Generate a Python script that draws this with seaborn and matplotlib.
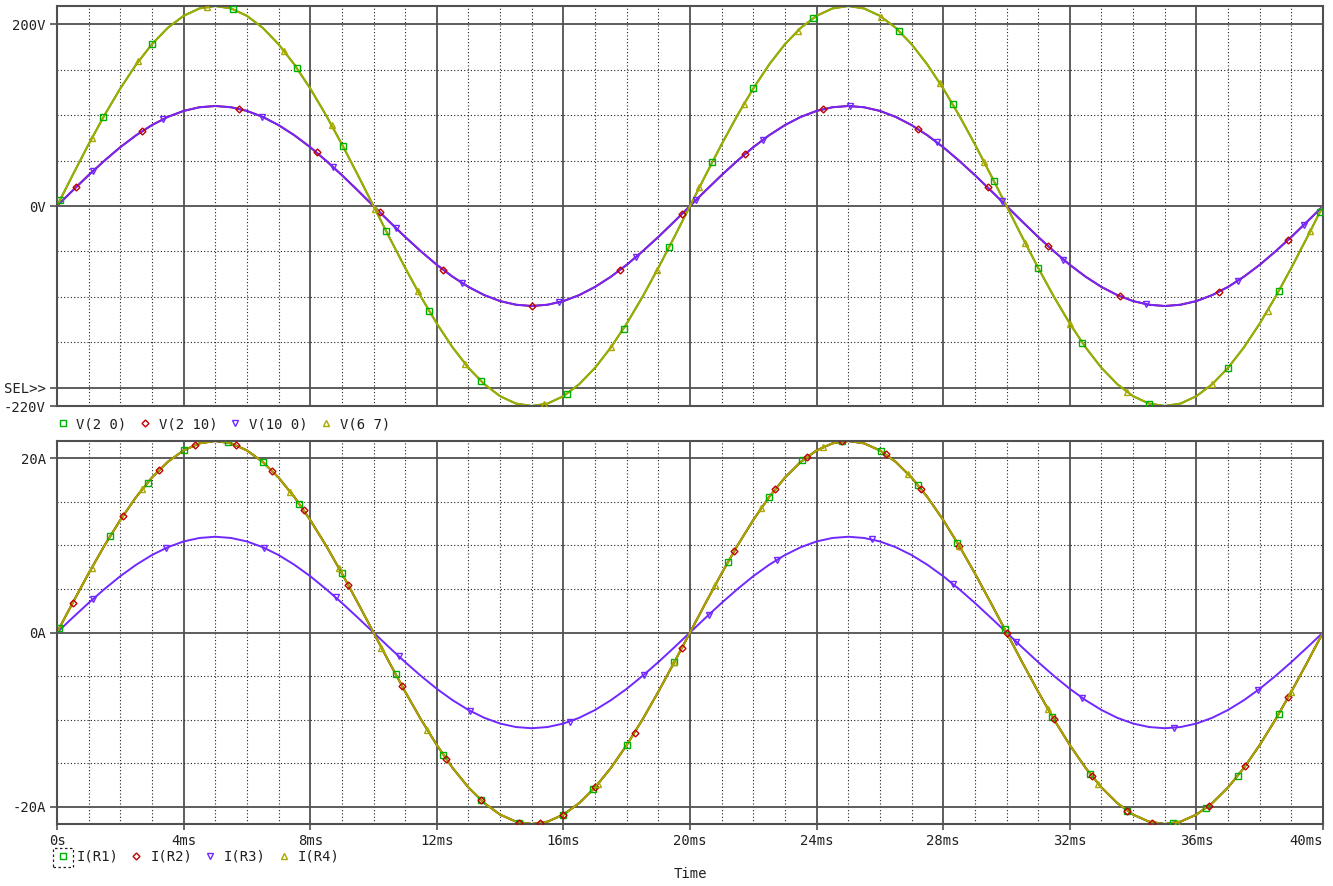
import matplotlib
matplotlib.use("Agg")
import matplotlib.pyplot as plt
import numpy as np
import seaborn as sns
from matplotlib.lines import Line2D
from matplotlib.patches import Rectangle
from matplotlib.ticker import MultipleLocator

# time base of the trace samples (ms)
t_ms = np.arange(0, 40.5, 0.5)

# top plot: node voltages (V)
v_2_0 = [0.0, 34.4, 68.0, 99.9, 129.3, 155.6, 178.0, 196.0, 209.2, 217.3,
         220.0, 217.3, 209.2, 196.0, 178.0, 155.6, 129.3, 99.9, 68.0, 34.4,
         0.0, -34.4, -68.0, -99.9, -129.3, -155.6, -178.0, -196.0, -209.2, -217.3,
         -220.0, -217.3, -209.2, -196.0, -178.0, -155.6, -129.3, -99.9, -68.0, -34.4,
         0.0, 34.4, 68.0, 99.9, 129.3, 155.6, 178.0, 196.0, 209.2, 217.3,
         220.0, 217.3, 209.2, 196.0, 178.0, 155.6, 129.3, 99.9, 68.0, 34.4,
         0.0, -34.4, -68.0, -99.9, -129.3, -155.6, -178.0, -196.0, -209.2, -217.3,
         -220.0, -217.3, -209.2, -196.0, -178.0, -155.6, -129.3, -99.9, -68.0, -34.4,
         0.0]
v_6_7 = list(v_2_0)  # lies exactly on V(2 0)
v_2_10 = [0.0, 17.2, 34.0, 49.9, 64.7, 77.8, 89.0, 98.0, 104.6, 108.6,
          110.0, 108.6, 104.6, 98.0, 89.0, 77.8, 64.7, 49.9, 34.0, 17.2,
          0.0, -17.2, -34.0, -49.9, -64.7, -77.8, -89.0, -98.0, -104.6, -108.6,
          -110.0, -108.6, -104.6, -98.0, -89.0, -77.8, -64.7, -49.9, -34.0, -17.2,
          0.0, 17.2, 34.0, 49.9, 64.7, 77.8, 89.0, 98.0, 104.6, 108.6,
          110.0, 108.6, 104.6, 98.0, 89.0, 77.8, 64.7, 49.9, 34.0, 17.2,
          0.0, -17.2, -34.0, -49.9, -64.7, -77.8, -89.0, -98.0, -104.6, -108.6,
          -110.0, -108.6, -104.6, -98.0, -89.0, -77.8, -64.7, -49.9, -34.0, -17.2,
          0.0]
v_10_0 = list(v_2_10)  # lies exactly on V(2 10)

# bottom plot: resistor currents (A)
i_r1 = [0.0, 3.44, 6.80, 9.99, 12.93, 15.56, 17.80, 19.60, 20.92, 21.73,
        22.0, 21.73, 20.92, 19.60, 17.80, 15.56, 12.93, 9.99, 6.80, 3.44,
        0.0, -3.44, -6.80, -9.99, -12.93, -15.56, -17.80, -19.60, -20.92, -21.73,
        -22.0, -21.73, -20.92, -19.60, -17.80, -15.56, -12.93, -9.99, -6.80, -3.44,
        0.0, 3.44, 6.80, 9.99, 12.93, 15.56, 17.80, 19.60, 20.92, 21.73,
        22.0, 21.73, 20.92, 19.60, 17.80, 15.56, 12.93, 9.99, 6.80, 3.44,
        0.0, -3.44, -6.80, -9.99, -12.93, -15.56, -17.80, -19.60, -20.92, -21.73,
        -22.0, -21.73, -20.92, -19.60, -17.80, -15.56, -12.93, -9.99, -6.80, -3.44,
        0.0]
i_r2 = list(i_r1)
i_r4 = list(i_r1)
i_r3 = [0.0, 1.72, 3.40, 4.99, 6.47, 7.78, 8.90, 9.80, 10.46, 10.86,
        11.0, 10.86, 10.46, 9.80, 8.90, 7.78, 6.47, 4.99, 3.40, 1.72,
        0.0, -1.72, -3.40, -4.99, -6.47, -7.78, -8.90, -9.80, -10.46, -10.86,
        -11.0, -10.86, -10.46, -9.80, -8.90, -7.78, -6.47, -4.99, -3.40, -1.72,
        0.0, 1.72, 3.40, 4.99, 6.47, 7.78, 8.90, 9.80, 10.46, 10.86,
        11.0, 10.86, 10.46, 9.80, 8.90, 7.78, 6.47, 4.99, 3.40, 1.72,
        0.0, -1.72, -3.40, -4.99, -6.47, -7.78, -8.90, -9.80, -10.46, -10.86,
        -11.0, -10.86, -10.46, -9.80, -8.90, -7.78, -6.47, -4.99, -3.40, -1.72,
        0.0]

# symbol positions on each trace (ms, value)
mk_v_2_0_t = [0.1, 1.46, 3.0, 5.57, 7.58, 9.03, 10.4, 11.76, 13.4, 16.1, 17.9, 19.35,
              20.7, 22.0, 23.9, 26.6, 28.3, 29.6, 31.0, 32.4, 34.5, 37.0, 38.6, 39.9]
mk_v_2_0_v = [6.9, 97.4, 178.0, 216.5, 151.6, 66.0, -27.6, -115.5, -192.8, -207.0, -134.8, -44.6,
              48.0, 129.3, 207.0, 192.8, 112.0, 27.6, -68.0, -150.6, -217.3, -178.0, -93.7, -6.9]
mk_v_2_10_t = [0.6, 2.7, 5.75, 8.2, 10.2, 12.2, 15.0, 17.8, 19.75,
               21.75, 24.2, 27.2, 29.4, 31.3, 33.6, 36.7, 38.9]
mk_v_2_10_v = [20.6, 82.5, 107.0, 58.9, -6.9, -70.1, -110.0, -70.1, -8.6,
               57.5, 106.5, 84.8, 20.6, -43.7, -99.5, -94.7, -37.3]
mk_v_10_0_t = [1.13, 3.34, 6.48, 8.73, 10.7, 12.8, 15.85, 18.3, 20.2,
               22.3, 25.07, 27.8, 29.85, 31.8, 34.4, 37.3, 39.4]
mk_v_10_0_v = [38.2, 95.4, 98.3, 42.7, -24.0, -84.8, -106.1, -56.0, 6.9,
               72.7, 110.0, 70.1, 5.2, -58.9, -108.1, -82.5, -20.6]
mk_v_6_7_t = [1.1, 2.57, 4.75, 7.18, 8.68, 10.05, 11.4, 12.9, 15.4, 17.5, 18.97,
              20.3, 21.7, 23.4, 26.05, 27.9, 29.3, 30.6, 32.0, 33.8, 36.5, 38.25, 39.6]
mk_v_6_7_v = [74.5, 159.0, 219.3, 170.4, 88.6, -3.5, -93.7, -173.8, -218.3, -155.6, -70.0,
              20.7, 112.0, 192.8, 208.1, 134.8, 48.0, -41.2, -129.3, -204.6, -196.0, -115.0, -27.6]

mk_i_r1_t = [0.07, 1.68, 2.86, 4.0, 5.4, 6.5, 7.65, 9.0, 10.7, 12.2, 13.4, 14.6, 16.0, 16.95,
             18.0, 19.5, 21.2, 22.5, 23.55, 24.8, 26.05, 27.2, 28.45, 29.95, 31.45, 32.65,
             33.8, 35.25, 36.3, 37.3, 38.6]
mk_i_r1_v = [0.48, 11.08, 17.21, 20.92, 21.83, 19.60, 14.81, 6.80, -4.80, -14.02, -19.28, -21.83,
             -20.92, -18.00, -12.93, -3.44, 8.10, 15.56, 19.76, 21.96, 20.81, 16.95, 10.29, 0.35,
             -9.68, -16.27, -20.46, -21.93, -20.19, -16.50, -9.37]
mk_i_r2_t = [0.5, 2.08, 3.23, 4.36, 5.65, 6.8, 7.8, 9.2, 10.9, 12.3, 13.4, 14.6, 15.27, 16.0,
             17.0, 18.25, 19.75, 21.4, 22.7, 23.7, 24.8, 26.2, 27.3, 28.5, 30.0, 31.5, 32.7,
             33.8, 34.6, 36.4, 37.55, 38.9]
mk_i_r2_v = [3.44, 13.37, 18.68, 21.56, 21.54, 18.57, 14.02, 5.47, -6.14, -14.55, -19.28, -21.83,
             -21.92, -20.92, -17.80, -11.50, -1.73, 9.37, 16.50, 20.19, 21.96, 20.46, 16.50, 9.99,
             0.0, -9.99, -16.50, -20.46, -21.83, -19.91, -15.31, -7.45]
mk_i_r3_t = [1.13, 3.43, 6.55, 8.8, 10.8, 13.05, 16.2, 18.55,
             20.6, 22.75, 25.75, 28.3, 30.3, 32.4, 35.3, 37.95]
mk_i_r3_v = [3.82, 9.69, 9.72, 4.05, -2.74, -9.00, -10.23, -4.84,
             2.06, 8.36, 10.70, 5.60, -1.04, -7.53, -10.95, -6.60]
mk_i_r4_t = [1.1, 2.7, 7.37, 8.9, 10.25, 11.7, 17.1, 19.5,
             20.8, 22.25, 24.2, 26.9, 28.5, 31.3, 32.9, 35.4, 39.0]
mk_i_r4_v = [7.45, 16.50, 16.18, 7.45, -1.73, -11.20, -17.38, -3.44,
             5.47, 14.29, 21.31, 18.20, 9.99, -8.74, -17.38, -21.83, -6.80]

x_ticks = [0, 4, 8, 12, 16, 20, 24, 28, 32, 36, 40]
x_labels = ["0s", "4ms", "8ms", "12ms", "16ms", "20ms", "24ms", "28ms", "32ms", "36ms", "40ms"]

green = "#00b000"
red = "#c00000"
purple = "#7028ff"
olive = "#a8a800"
ink = "#202020"

sns.set_style("white")
plt.rcParams["font.family"] = ["DejaVu Sans Mono"]
plt.rcParams["font.size"] = 10

fig = plt.figure(figsize=(13.33, 8.86), dpi=100)
ax1 = fig.add_axes([57 / 1333, 1 - 406 / 886, 1266 / 1333, 400 / 886])
ax2 = fig.add_axes([57 / 1333, 1 - 824 / 886, 1266 / 1333, 383 / 886])

top_traces = [
    ("V(2 0)", v_2_0, green, "s", 5, mk_v_2_0_t, mk_v_2_0_v),
    ("V(2 10)", v_2_10, red, "D", 3.5, mk_v_2_10_t, mk_v_2_10_v),
    ("V(10 0)", v_10_0, purple, "v", 5, mk_v_10_0_t, mk_v_10_0_v),
    ("V(6 7)", v_6_7, olive, "^", 5, mk_v_6_7_t, mk_v_6_7_v),
]
bot_traces = [
    ("I(R1)", i_r1, green, "s", 5, mk_i_r1_t, mk_i_r1_v),
    ("I(R2)", i_r2, red, "D", 3.5, mk_i_r2_t, mk_i_r2_v),
    ("I(R3)", i_r3, purple, "v", 5, mk_i_r3_t, mk_i_r3_v),
    ("I(R4)", i_r4, olive, "^", 5, mk_i_r4_t, mk_i_r4_v),
]


def draw(ax, traces):
    for name, vals, col, mk, ms, mt, mv in traces:
        sns.lineplot(x=t_ms, y=vals, ax=ax, color=col, lw=1.4, estimator=None, sort=False)
    for name, vals, col, mk, ms, mt, mv in traces:
        ax.plot(mt, mv, ls="none", marker=mk, ms=ms, mfc="none", mec=col, mew=1.0, zorder=5)
    handles = [Line2D([], [], ls="none", marker=mk, ms=ms, mfc="none", mec=col, mew=1.0)
               for name, vals, col, mk, ms, mt, mv in traces]
    return handles, [tr[0] for tr in traces]


def style_axes(ax):
    ax.set_xlim(0, 40)
    ax.set_xticks(x_ticks)
    ax.xaxis.set_minor_locator(MultipleLocator(1))
    ax.grid(which="major", color="#505050", lw=1.3, ls="-")
    ax.grid(which="minor", color=ink, lw=0.8, ls=(0, (1, 2)))
    ax.set_axisbelow(True)
    ax.tick_params(axis="y", which="major", left=True, length=5, width=1.2, color="#505050",
                   direction="out", pad=3, labelcolor=ink, labelsize=10)
    ax.tick_params(which="minor", length=0)
    for sp in ax.spines.values():
        sp.set_color("#505050")
        sp.set_linewidth(1.5)
    ax.set_xlabel("")
    ax.set_ylabel("")


h1, l1 = draw(ax1, top_traces)
h2, l2 = draw(ax2, bot_traces)
style_axes(ax1)
style_axes(ax2)

ax1.set_ylim(-220, 220)
ax1.set_yticks([-220, -200, 0, 200])
ax1.set_yticklabels(["-220V", "SEL>>", "0V", "200V"])
ax1.yaxis.set_minor_locator(MultipleLocator(50))
ax1.tick_params(axis="x", which="both", length=0, labelbottom=False)

ax2.set_ylim(-22, 22)
ax2.set_yticks([-20, 0, 20])
ax2.set_yticklabels(["-20A", "0A", "20A"])
ax2.yaxis.set_minor_locator(MultipleLocator(5))
ax2.set_xticklabels(x_labels)
ax2.tick_params(axis="x", which="major", bottom=True, length=4, width=1.2, color="#505050",
                direction="out", pad=3, labelcolor=ink, labelsize=10)
ax2.get_xticklabels()[-1].set_ha("right")
ax2.spines["top"].set_linestyle((0, (1, 1)))

leg_kw = dict(loc="center left", ncol=4, frameon=False, handlelength=0.8, handletextpad=0.6,
              columnspacing=0.9, borderaxespad=0, borderpad=0, fontsize=10, labelcolor=ink)
ax1.legend(h1, l1, bbox_to_anchor=(0.0, -0.045), **leg_kw)
ax2.legend(h2, l2, bbox_to_anchor=(0.0, -0.086), **leg_kw)

# selection box around the first legend symbol of the lower plot
fig.add_artist(Rectangle((53 / 1333, 1 - 867 / 886), 20 / 1333, 19 / 886, transform=fig.transFigure,
                         fill=False, ls=(0, (2, 2)), lw=0.9, ec=ink))

fig.text(690 / 1333, 1 - 874 / 886, "Time", ha="center", va="center", color=ink, fontsize=10)

fig.savefig("out.png", dpi=100, facecolor="white")
